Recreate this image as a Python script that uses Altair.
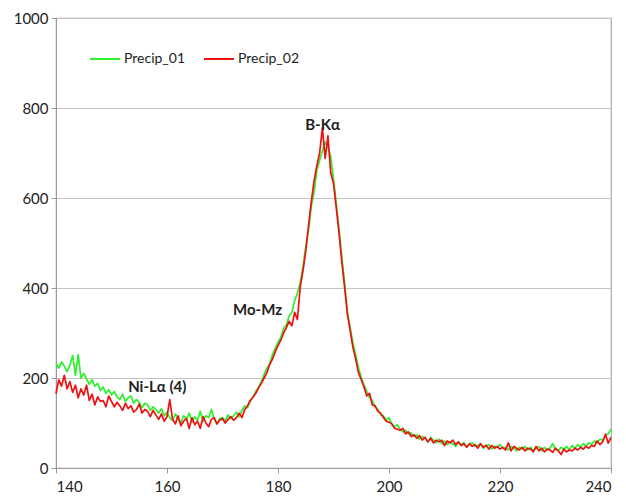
import altair as alt
import pandas as pd

energy_start = 140.0
energy_step = 0.5

precip_01 = [
    232, 222, 236, 226, 214, 228, 250, 206, 252, 200,
    210, 198, 186, 196, 182, 188, 172, 180, 166, 174,
    162, 170, 158, 152, 164, 148, 156, 160, 144, 152,
    146, 134, 144, 140, 128, 136, 130, 122, 132, 116,
    124, 112, 106, 120, 110, 100, 116, 108, 122, 102,
    114, 106, 126, 104, 116, 112, 130, 108, 98, 110,
    112, 104, 118, 110, 116, 124, 114, 128, 138, 134,
    148, 158, 170, 180, 192, 208, 222, 232, 252, 266,
    280, 290, 310, 318, 338, 346, 372, 388, 412, 448,
    492, 528, 582, 612, 662, 684, 705, 725, 712, 692,
    642, 588, 530, 468, 412, 348, 312, 278, 252, 222,
    202, 184, 170, 156, 150, 136, 130, 118, 116, 106,
    112, 98, 92, 96, 86, 80, 84, 76, 78, 70,
    74, 64, 70, 66, 58, 68, 62, 56, 64, 54,
    60, 52, 58, 54, 48, 58, 52, 56, 46, 54,
    56, 48, 50, 54, 44, 50, 52, 42, 48, 46,
    52, 44, 46, 40, 48, 44, 38, 46, 42, 48,
    40, 46, 38, 44, 48, 38, 46, 40, 44, 54,
    42, 38, 46, 42, 48, 40, 50, 44, 52, 46,
    54, 48, 56, 52, 60, 56, 64, 62, 72, 76,
    86,
]

precip_02 = [
    165, 196, 182, 206, 176, 192, 168, 184, 156, 176,
    162, 184, 150, 164, 140, 158, 148, 150, 136, 160,
    148, 136, 146, 138, 128, 144, 132, 138, 124, 130,
    142, 122, 130, 126, 114, 128, 118, 108, 120, 104,
    114, 152, 108, 98, 116, 94, 104, 110, 88, 112,
    96, 104, 88, 114, 100, 92, 108, 112, 98, 106,
    110, 100, 108, 114, 106, 112, 122, 112, 130, 138,
    150, 158, 166, 178, 188, 200, 212, 230, 242, 258,
    272, 284, 300, 312, 326, 316, 346, 330, 402, 438,
    482, 538, 592, 638, 672, 700, 756, 688, 738, 656,
    632, 578, 522, 458, 402, 342, 306, 268, 242, 212,
    196, 180, 160, 166, 140, 138, 126, 122, 112, 104,
    102, 98, 88, 86, 84, 88, 76, 80, 70, 74,
    66, 72, 62, 68, 58, 66, 56, 62, 58, 62,
    50, 60, 56, 62, 52, 58, 50, 54, 46, 54,
    48, 52, 44, 54, 46, 50, 42, 50, 44, 48,
    42, 46, 40, 56, 38, 48, 44, 40, 46, 38,
    44, 42, 36, 48, 38, 44, 36, 42, 40, 35,
    44, 38, 30, 42, 36, 40, 38, 44, 40, 46,
    42, 48, 44, 50, 48, 60, 52, 58, 75, 55,
    68,
]

series_names = ["Precip_01", "Precip_02"]
series_colors = ["#2ef02e", "#ee1111"]

x_ticks = [140, 160, 180, 200, 220, 240]
y_ticks = [0, 200, 400, 600, 800, 1000]

ann_text = ["B-K\u03b1", "Mo-Mz", "Ni-L\u03b1 (4)"]
ann_x = [184.9, 171.9, 153.0]
ann_y = [762, 351, 181]

rows = []
for name, vals in zip(series_names, [precip_01, precip_02]):
    for i, v in enumerate(vals):
        rows.append({"energy": energy_start + energy_step * i, "counts": v, "series": name, "order": i})
df = pd.DataFrame(rows)
ann = pd.DataFrame({"label": ann_text, "x": ann_x, "y": ann_y})

x_scale = alt.Scale(domain=[140, 240], nice=False, zero=False)
y_scale = alt.Scale(domain=[0, 1000], nice=False)

lines = alt.Chart(df).mark_line(strokeWidth=1.7, strokeJoin="round").encode(
    x=alt.X("energy:Q", scale=x_scale,
            axis=alt.Axis(values=x_ticks, format="d", title=None, grid=False, tickSize=5,
                          labelPadding=6, domainColor="#9a9a9a", tickColor="#9a9a9a")),
    y=alt.Y("counts:Q", scale=y_scale,
            axis=alt.Axis(values=y_ticks, format="d", title=None, grid=True, gridColor="#c4c4c4",
                          tickSize=5, labelPadding=3, domainColor="#9a9a9a",
                          tickColor="#9a9a9a")),
    color=alt.Color("series:N", scale=alt.Scale(domain=series_names, range=series_colors),
                    legend=alt.Legend(title=None, orient="none", legendX=33, legendY=25,
                                      direction="horizontal", symbolType="stroke",
                                      symbolSize=900, symbolStrokeWidth=2,
                                      labelFontSize=14, labelFont="Lato",
                                      labelColor="#222222", columnPadding=14,
                                      labelOffset=3)),
    order="order:Q",
    detail="series:N",
)

labels = alt.Chart(ann).mark_text(align="left", baseline="middle", fontSize=15,
                                  fontWeight="bold", font="Lato", color="#222222").encode(
    x=alt.X("x:Q", scale=x_scale),
    y=alt.Y("y:Q", scale=y_scale),
    text="label:N",
)

chart = alt.layer(lines, labels).properties(
    width=555, height=450,
    autosize=alt.AutoSizeParams(type="none"),
    padding={"left": 56, "top": 18, "right": 15, "bottom": 30},
).configure_view(stroke="#a8a8a8", strokeWidth=1.2).configure_axis(
    labelFont="Lato", labelFontSize=15, labelColor="#222222"
)

chart.save("out.html", embed_options={"renderer": "svg", "actions": False})
